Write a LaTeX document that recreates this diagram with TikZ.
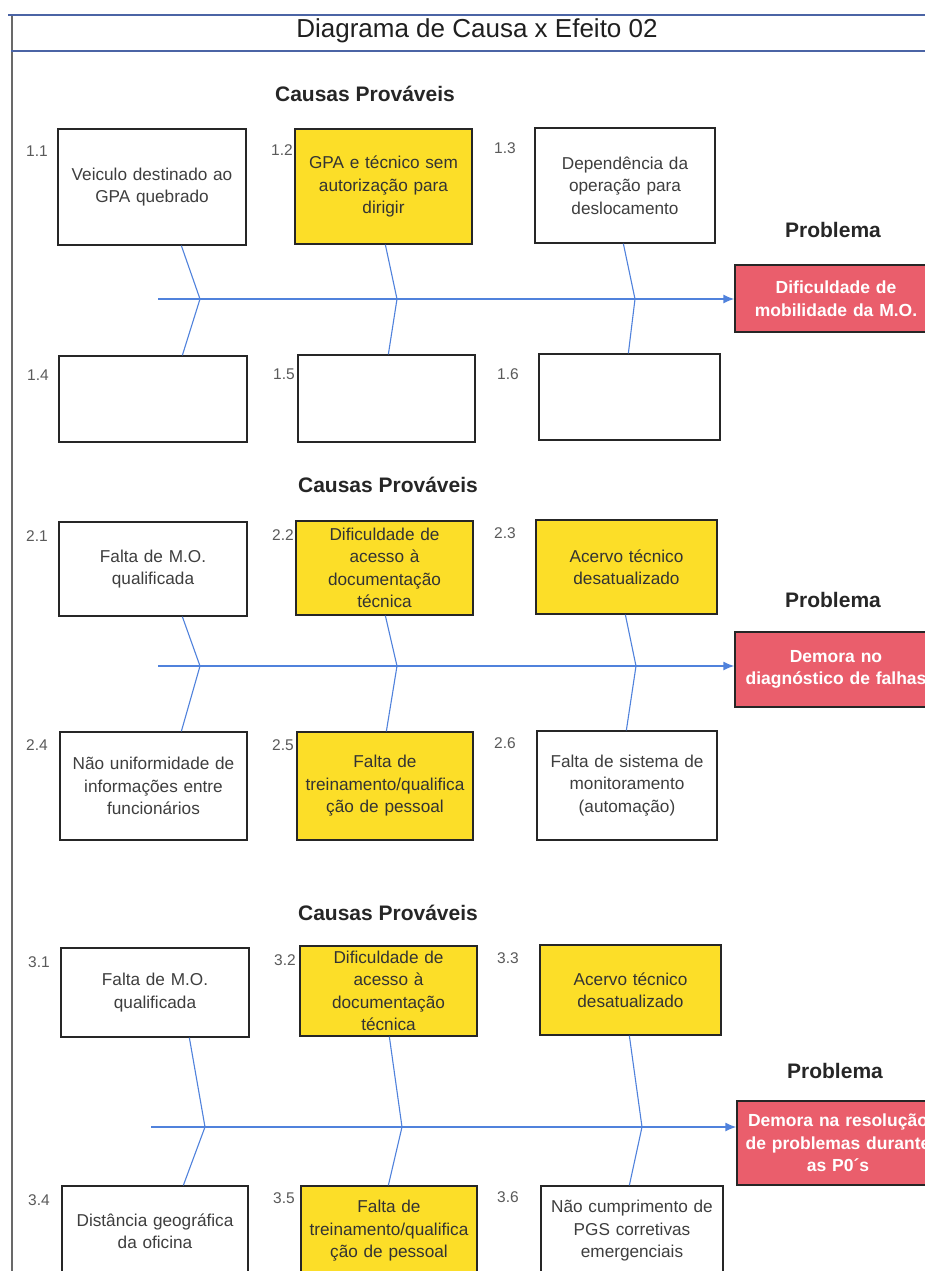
\documentclass[tikz,border=0pt]{standalone}
\usepackage{fontspec}
\setmainfont{Liberation Sans}
\usetikzlibrary{arrows.meta}

\definecolor{framec}{RGB}{75,100,165}
\definecolor{borderc}{RGB}{105,105,105}
\definecolor{bonec}{RGB}{80,130,220}
\definecolor{causeyellow}{RGB}{252,222,40}
\definecolor{probred}{RGB}{234,94,108}
\definecolor{boxtext}{RGB}{62,62,62}
\definecolor{numtext}{RGB}{90,90,90}

\tikzset{
  cause/.style={draw=black!85, line width=1.3pt, fill=white, align=center,
    text width=166pt, inner sep=0pt, text=boxtext,
    font=\fontsize{17.2}{22.5}\selectfont},
  hot/.style={cause, fill=causeyellow, text=black!80},
  num/.style={text=numtext, inner sep=0pt, font=\fontsize{15.5}{18}\selectfont},
  problem/.style={draw=black!85, line width=1.3pt, fill=probred, text=white,
    align=center, inner sep=0pt, text width=190pt,
    font=\bfseries\fontsize{17.5}{22.5}\selectfont},
  head/.style={inner sep=0pt, text=black!85, font=\bfseries\fontsize{21}{24}\selectfont},
  bone/.style={draw=bonec, line width=1.1pt},
  spine/.style={draw=bonec, line width=1.5pt, -{Latex[length=11pt,width=9pt]}},
}

\begin{document}
\begin{tikzpicture}[x=1pt,y=-1pt]
\useasboundingbox (0,0) rectangle (925,1271);
\clip (0,0) rectangle (925,1271);
\fill[white] (0,0) rectangle (925,1271);

% ---------- frame and title ----------
\coordinate (ftl) at (8,15);
\coordinate (ftr) at (925,15);
\coordinate (fbl) at (11,51);
\coordinate (fbr) at (925,51);
\coordinate (lb1) at (12,15);
\coordinate (lb2) at (12,1271);
\draw[borderc, line width=1.5pt] (lb1) -- (lb2);
\draw[framec, line width=2.6pt] (ftl) -- (ftr);
\draw[framec, line width=2.6pt] (fbl) -- (fbr);
\node[inner sep=0pt, text=black!88, font=\fontsize{26}{29}\selectfont] (title) at (477,31)
  {Diagrama de Causa x Efeito 02};

% ================= block 1 =================
\node[head] (h1) at (365,94) {Causas Prováveis};
\node[head] (pl1) at (833,230) {Problema};

\node[cause, minimum width=188pt, minimum height=116pt] (b11) at (152,187)
  {Veiculo destinado ao\\GPA quebrado};
\node[hot, minimum width=177pt, minimum height=115pt] (b12) at (383.5,186.5)
  {GPA e técnico sem\\autorização para\\dirigir};
\node[cause, minimum width=180pt, minimum height=115pt] (b13) at (625,185.5)
  {Dependência da\\operação para\\deslocamento};
\node[cause, minimum width=188pt, minimum height=86pt] (b14) at (153,399) {};
\node[cause, minimum width=177pt, minimum height=87pt] (b15) at (386.5,398.5) {};
\node[cause, minimum width=181pt, minimum height=86pt] (b16) at (629.5,397) {};

\node[num] (n11) at (37,151) {1.1};
\node[num] (n12) at (282,150) {1.2};
\node[num] (n13) at (505,148) {1.3};
\node[num] (n14) at (38,375) {1.4};
\node[num] (n15) at (284,374) {1.5};
\node[num] (n16) at (508,374) {1.6};

\node[problem, minimum width=202pt, minimum height=67pt] (p1) at (836,298.5)
  {Dificuldade de\\mobilidade da M.O.};

\coordinate (s1) at (158,299);
\coordinate (j11) at (200,299);
\coordinate (j12) at (397,299);
\coordinate (j13) at (635,299);
\draw[spine] (s1) -- (s1 -| p1.west);
\draw[bone] ([xshift=124pt]b11.south west) -- (j11) -- ([xshift=124pt]b14.north west);
\draw[bone] ([xshift=91pt]b12.south west) -- (j12) -- ([xshift=91pt]b15.north west);
\draw[bone] ([xshift=89pt]b13.south west) -- (j13) -- ([xshift=90pt]b16.north west);

% ================= block 2 =================
\node[head] (h2) at (388,485) {Causas Prováveis};
\node[head] (pl2) at (833,600) {Problema};

\node[cause, minimum width=188pt, minimum height=94pt] (b21) at (153,569)
  {Falta de M.O.\\qualificada};
\node[hot, minimum width=177pt, minimum height=94pt] (b22) at (384.5,568)
  {Dificuldade de\\acesso à\\documentação\\técnica};
\node[hot, minimum width=181pt, minimum height=94pt] (b23) at (626.5,567)
  {Acervo técnico\\desatualizado};
\node[cause, minimum width=187pt, minimum height=108pt] (b24) at (153.5,786)
  {Não uniformidade de\\informações entre\\funcionários};
\node[hot, minimum width=176pt, minimum height=108pt] (b25) at (385,786)
  {Falta de\\treinamento/qualifica\\ção de pessoal};
\node[cause, minimum width=180pt, minimum height=109pt] (b26) at (627,785.5)
  {Falta de sistema de\\monitoramento\\(automação)};

\node[num] (n21) at (37,536) {2.1};
\node[num] (n22) at (283,535) {2.2};
\node[num] (n23) at (505,533) {2.3};
\node[num] (n24) at (37,745) {2.4};
\node[num] (n25) at (283,745) {2.5};
\node[num] (n26) at (505,743) {2.6};

\node[problem, minimum width=202pt, minimum height=75pt] (p2) at (836,669.5)
  {Demora no\\diagnóstico de falhas};

\coordinate (s2) at (158,666);
\coordinate (j21) at (200,666);
\coordinate (j22) at (397,666);
\coordinate (j23) at (636,666);
\draw[spine] (s2) -- (s2 -| p2.west);
\draw[bone] ([xshift=124pt]b21.south west) -- (j21) -- ([xshift=122pt]b24.north west);
\draw[bone] ([xshift=90pt]b22.south west) -- (j22) -- ([xshift=90pt]b25.north west);
\draw[bone] ([xshift=90pt]b23.south west) -- (j23) -- ([xshift=90pt]b26.north west);

% ================= block 3 =================
\node[head] (h3) at (388,913) {Causas Prováveis};
\node[head] (pl3) at (835,1071) {Problema};

\node[cause, minimum width=188pt, minimum height=89pt] (b31) at (155,992.5)
  {Falta de M.O.\\qualificada};
\node[hot, minimum width=177pt, minimum height=90pt] (b32) at (388.5,991)
  {Dificuldade de\\acesso à\\documentação\\técnica};
\node[hot, minimum width=181pt, minimum height=90pt] (b33) at (630.5,990)
  {Acervo técnico\\desatualizado};
\node[cause, minimum width=186pt, minimum height=90pt] (b34) at (155,1231)
  {Distância geográfica\\da oficina};
\node[hot, minimum width=176pt, minimum height=90pt] (b35) at (389,1231)
  {Falta de\\treinamento/qualifica\\ção de pessoal};
\node[cause, minimum width=182pt, minimum height=90pt] (b36) at (632,1231)
  {Não cumprimento de\\PGS corretivas\\emergenciais};

\node[num] (n31) at (39,962) {3.1};
\node[num] (n32) at (285,960) {3.2};
\node[num] (n33) at (508,958) {3.3};
\node[num] (n34) at (39,1200) {3.4};
\node[num] (n35) at (284,1198) {3.5};
\node[num] (n36) at (508,1197) {3.6};

\node[problem, minimum width=202pt, minimum height=84pt] (p3) at (838,1143)
  {Demora na resolução\\de problemas durante\\as P0´s};

\coordinate (s3) at (151,1127);
\coordinate (j31) at (205,1127);
\coordinate (j32) at (402,1127);
\coordinate (j33) at (642,1127);
\draw[spine] (s3) -- (s3 -| p3.west);
\draw[bone] ([xshift=129pt]b31.south west) -- (j31) -- ([xshift=122pt]b34.north west);
\draw[bone] ([xshift=90pt]b32.south west) -- (j32) -- ([xshift=88pt]b35.north west);
\draw[bone] ([xshift=90pt]b33.south west) -- (j33) -- ([xshift=89pt]b36.north west);
\end{tikzpicture}
\end{document}
